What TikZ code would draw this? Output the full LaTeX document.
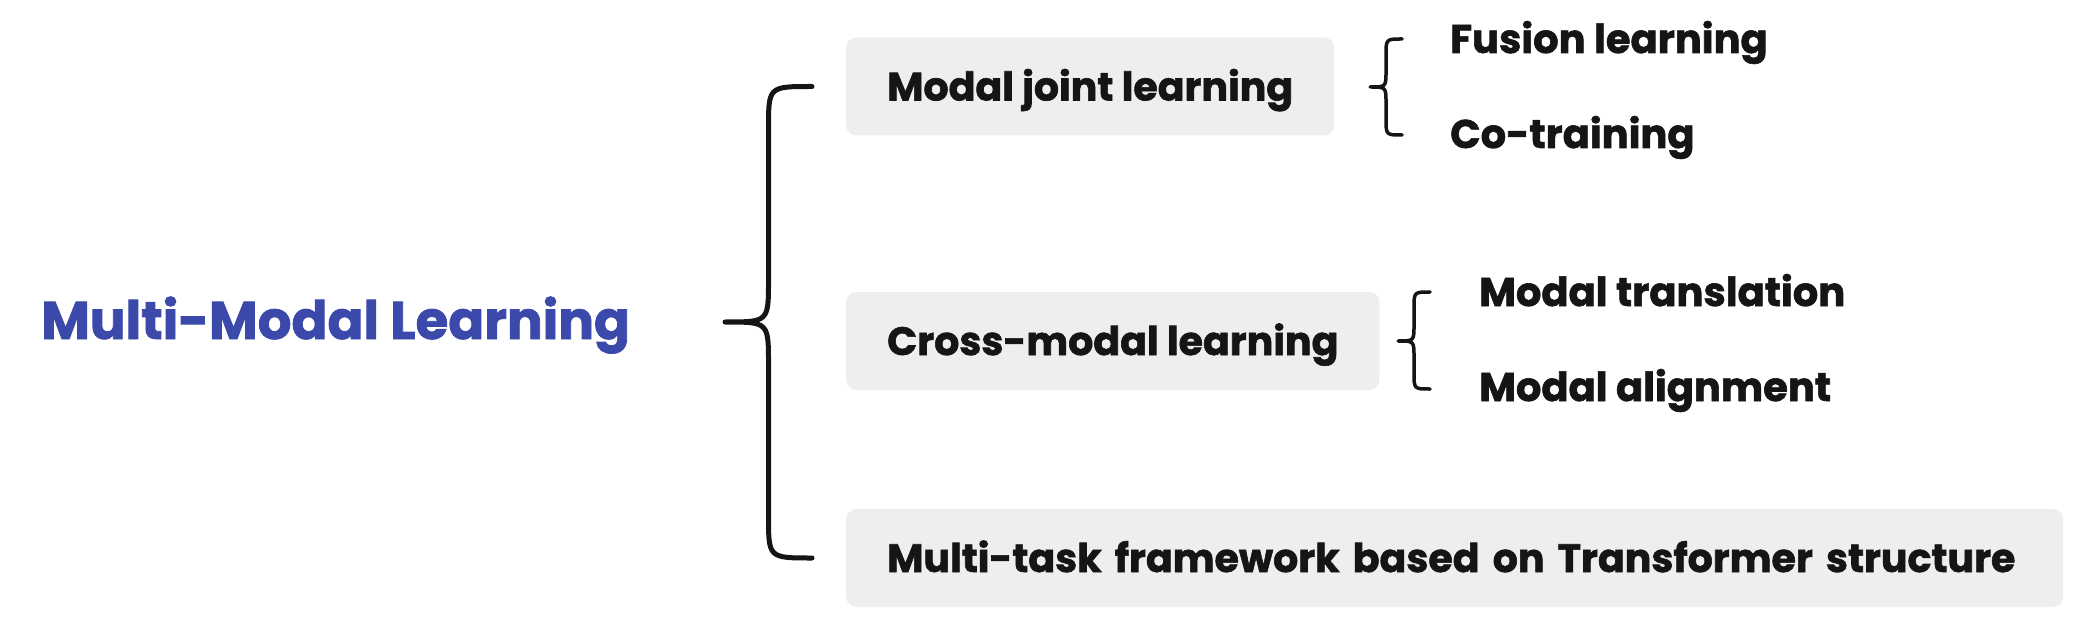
\documentclass[tikz,border=0pt]{standalone}
\usepackage{fontspec}
\setmainfont{Poppins}[BoldFeatures={FakeBold=1.5}]
\usepackage{tikz}
\usetikzlibrary{calc}
\definecolor{mmlblue}{RGB}{59,73,171}
\definecolor{boxgray}{RGB}{238,238,238}
\definecolor{inkblack}{RGB}{21,21,21}
\def\boxleft{846}

% curly brace: top, tip, bottom, bend
\newcommand{\mmbrace}[5][]{%
    \draw[brace line,#1] let \p1=(#2), \p2=(#3), \p3=(#4), \n1={0.5*\x1+0.5*\x2} in
        (\p1) .. controls (\n1,\y1) .. (\n1,\y1-#5) -- (\n1,\y2+#5)
        .. controls (\n1,\y2) .. (\p2) .. controls (\n1,\y2) .. (\n1,\y2-#5)
        -- (\n1,\y3+#5) .. controls (\n1,\y3) .. (\p3);}

\begin{document}
\begin{tikzpicture}[x=1pt,y=-1pt]
    \tikzstyle{brace line}=[draw=inkblack,line width=5pt,line cap=round,line join=round]
    \tikzstyle{root}=[inner sep=0pt,anchor=base west,text=mmlblue,font=\fontsize{53}{60}\selectfont\bfseries]
    \tikzstyle{branch}=[fill=boxgray,rounded corners=10pt,anchor=west,inner xsep=41pt,inner ysep=0pt,
        minimum height=98pt,text height=28pt,text depth=0pt,text=inkblack,font=\fontsize{39.5}{45}\selectfont\bfseries]
    \tikzstyle{leaf}=[inner sep=0pt,anchor=base west,text=inkblack,font=\fontsize{40}{46}\selectfont\bfseries]
    \useasboundingbox (0,0) rectangle (2093,636);

    % Draw the root
    \node[root] (mml) at (41,339) {Multi-Modal Learning};

    % Draw the branch boxes
    \node[branch] (joint) at (\boxleft,86.5) {Modal joint learning};
    \node[branch] (cross) at (\boxleft,341) {Cross-modal learning};
    \node[branch,text width=1135pt] (task) at (\boxleft,558) {Multi-task framework based on Transformer structure};

    % Draw the leaves
    \node[leaf] (fusion) at (1450,53) {Fusion learning};
    \node[leaf] (cotrain) at (1450,148) {Co-training};
    \node[leaf] (trans) at (1479,306) {Modal translation};
    \node[leaf] (align) at (1479,401) {Modal alignment};

    % Brace ends
    \coordinate (tip-0) at (725,322);
    \coordinate (top-0) at ([xshift=-34pt]joint.west);
    \coordinate (bot-0) at ([xshift=-34pt]task.west);
    \coordinate (tip-1) at (1370,87);
    \coordinate (top-1) at (1402,39);
    \coordinate (bot-1) at (1402,135);
    \coordinate (tip-2) at (1398,341);
    \coordinate (top-2) at (1430,292);
    \coordinate (bot-2) at (1430,389);

    % Connect root and branches, branches and leaves
    \mmbrace{top-0}{tip-0}{bot-0}{42pt}
    \foreach \b in {1,2}{
        \mmbrace[line width=3.5pt]{top-\b}{tip-\b}{bot-\b}{16pt}
    }
\end{tikzpicture}
\end{document}
